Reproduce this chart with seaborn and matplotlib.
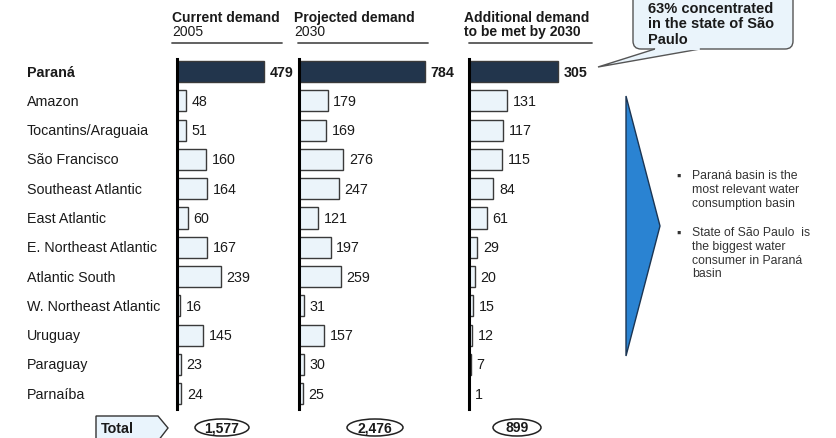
import matplotlib
matplotlib.use("Agg")
import matplotlib.pyplot as plt
import matplotlib.transforms as mtransforms
from matplotlib.patches import Polygon, Ellipse, FancyBboxPatch
import seaborn as sns
import pandas as pd

# ---- data -------------------------------------------------------------
regions = ["Paraná", "Amazon", "Tocantins/Araguaia", "São Francisco",
           "Southeast Atlantic", "East Atlantic", "E. Northeast Atlantic",
           "Atlantic South", "W. Northeast Atlantic", "Uruguay",
           "Paraguay", "Parnaíba"]
current_2005 = [479, 48, 51, 160, 164, 60, 167, 239, 16, 145, 23, 24]
projected_2030 = [784, 179, 169, 276, 247, 121, 197, 259, 31, 157, 30, 25]
additional_2030 = [305, 131, 117, 115, 84, 61, 29, 20, 15, 12, 7, 1]
totals = [1577, 2476, 899]

headers = [("Current demand", "2005", False),
           ("Projected demand", "2030", False),
           ("Additional demand", "to be met by 2030", True)]

# ---- style ------------------------------------------------------------
sns.set_theme(style="white")
plt.rcParams["font.family"] = ["Liberation Sans", "DejaVu Sans"]

W, H = 836, 439
fig = plt.figure(figsize=(W / 100, H / 100), dpi=100)
fig.patch.set_facecolor("white")

# pixel coordinates (origin top-left) -> figure
px = mtransforms.Affine2D().scale(1 / W, -1 / H).translate(0, 1) + fig.transFigure

DARK = "#1b3553"
LIGHT = "#e9f4fc"
TEXT = "#1a1a1a"
FS = 10.3

# axes layout in pixels: (left, width, x-limit)
panels = [(177, 110, 604), (299, 150, 932), (469, 130, 447)]
series = [current_2005, projected_2030, additional_2030]
top_px, bot_px = 60, 410

for (left, width, xmax), vals, (h1, h2, bold2) in zip(panels, series, headers):
    ax = fig.add_axes([left / W, 1 - bot_px / H, width / W, (bot_px - top_px) / H])
    df = pd.DataFrame({"region": regions, "value": vals})
    colors = {r: (DARK if i == 0 else LIGHT) for i, r in enumerate(regions)}
    sns.barplot(data=df, x="value", y="region", hue="region", palette=colors,
                legend=False, orient="h", width=0.72, ax=ax,
                edgecolor="#3a3a3a", linewidth=1.0)
    ax.set_xlim(0, xmax)
    ax.set_ylim(11.52, -0.43)
    ax.set_xlabel("")
    ax.set_ylabel("")
    ax.set_xticks([])
    ax.set_yticks([])
    ax.patch.set_alpha(0)
    for s in ("top", "right", "bottom"):
        ax.spines[s].set_visible(False)
    ax.spines["left"].set_color("black")
    ax.spines["left"].set_linewidth(2.2)
    for i, v in enumerate(vals):
        ax.annotate(f"{v}", (v, i), xytext=(4, 0), textcoords="offset points",
                    va="center", ha="left", fontsize=FS, color=TEXT,
                    fontweight="bold" if i == 0 else "normal")

    # column header
    fig.text(left - 5, 18, h1, transform=px, fontsize=10, fontweight="bold",
             color=TEXT, va="center", ha="left")
    fig.text(left - 5, 32, h2, transform=px, fontsize=10,
             fontweight="bold" if bold2 else "normal", color=TEXT,
             va="center", ha="left")

# header underlines
for x0, x1 in [(172, 282), (298, 428), (469, 592)]:
    fig.add_artist(plt.Line2D([x0, x1], [44, 44], transform=px,
                              color="#555555", lw=1.3))

# row labels
first_ax = fig.axes[0]
lab_tr = mtransforms.blended_transform_factory(px, first_ax.transData)
for i, r in enumerate(regions):
    fig.text(27, i, r, transform=lab_tr, fontsize=FS, color=TEXT,
             va="center", ha="left",
             fontweight="bold" if i == 0 else "normal")

# total row
fig.add_artist(Polygon([(96, 417), (158, 417), (168, 429), (158, 442), (96, 442)],
                       closed=True, transform=px, facecolor=LIGHT,
                       edgecolor="#333333", lw=1.0))
fig.text(101, 429, "Total", transform=px, fontsize=FS, fontweight="bold",
         color=TEXT, va="center", ha="left")
for cx, wd, t in zip([222, 375, 517], [54, 56, 48], totals):
    fig.add_artist(Ellipse((cx, 428.5), wd, 17, transform=px, facecolor="white",
                           edgecolor="#222222", lw=1.1))
    fig.text(cx, 428.5, f"{t:,}", transform=px, fontsize=10, fontweight="bold",
             color=TEXT, va="center", ha="center")

# callout box
fig.add_artist(FancyBboxPatch((633, -10), 160, 60, boxstyle="round,pad=0,rounding_size=8",
                              transform=px, facecolor="#eaf4fb",
                              edgecolor="#555555", lw=1.0))
fig.add_artist(Polygon([(655, 50), (598, 68), (700, 50)], closed=False,
                       transform=px, facecolor="#eaf4fb",
                       edgecolor="#555555", lw=1.0))
fig.add_artist(plt.Line2D([656, 699], [50, 50], transform=px,
                          color="#eaf4fb", lw=1.6))
fig.text(648, 2, "63% concentrated\nin the state of São\nPaulo", transform=px,
         fontsize=10.5, fontweight="bold", color=TEXT, va="top", ha="left",
         linespacing=1.12)

# arrow wedge
fig.add_artist(Polygon([(626, 97), (660, 227), (626, 357)], closed=True,
                       transform=px, facecolor="#2a83d2",
                       edgecolor="#1b3553", lw=1.0))

# bullet notes
notes = [(177, "Paraná basin is the\nmost relevant water\nconsumption basin"),
         (234, "State of São Paulo  is\nthe biggest water\nconsumer in Paraná\nbasin")]
for y, t in notes:
    fig.text(676, y, "▪", transform=px, fontsize=9, color="#333333",
             va="center", ha="left")
    fig.text(692, y - 7, t, transform=px, fontsize=8.8, color="#333333",
             va="top", ha="left", linespacing=1.2)

fig.savefig("out.png", dpi=100, facecolor="white")
